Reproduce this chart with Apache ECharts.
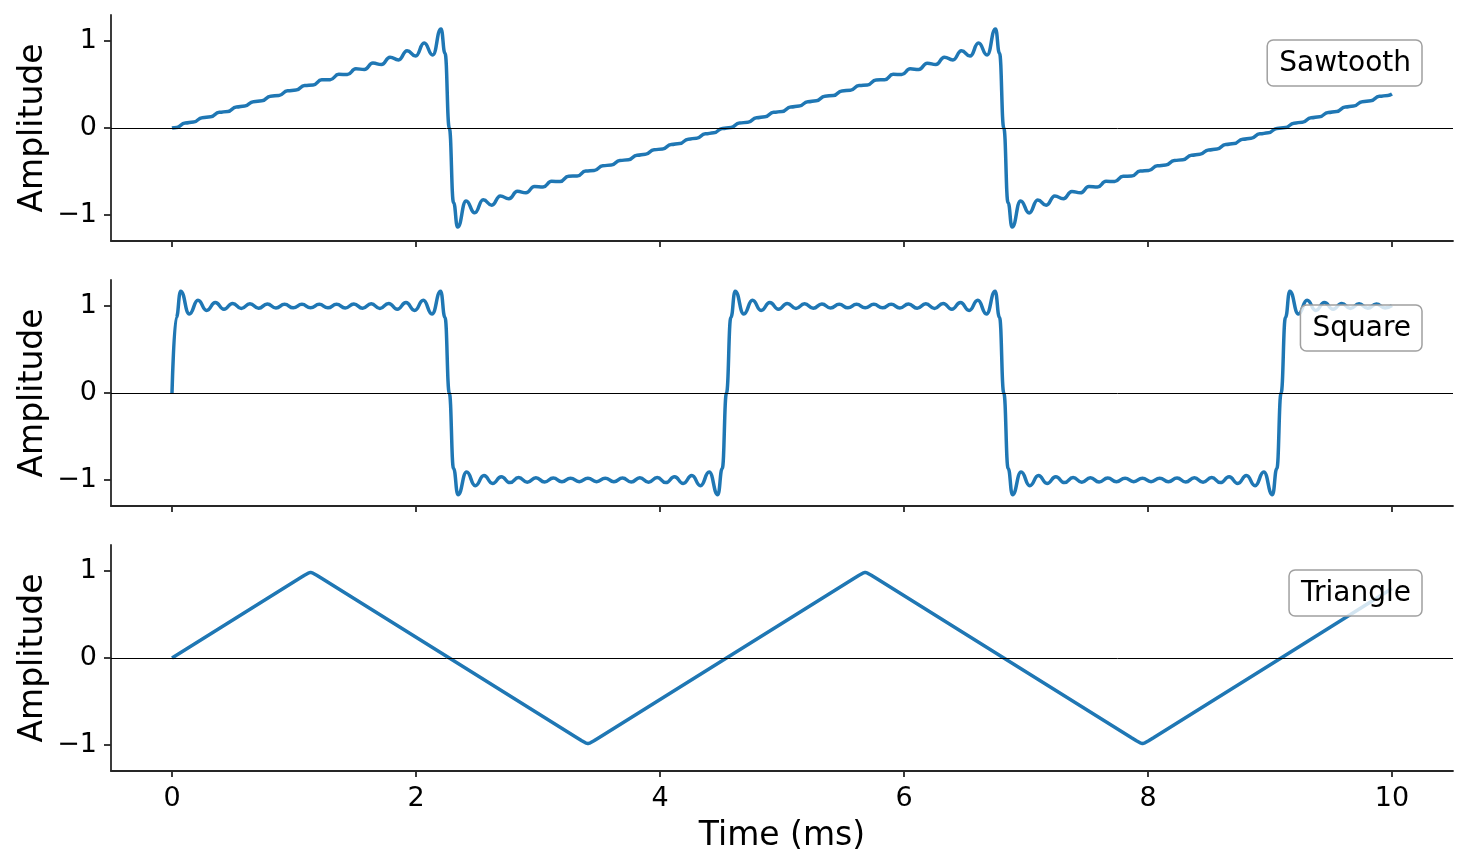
<!DOCTYPE html>
<html lang="en">
<head>
<meta charset="UTF-8">
<title>Waveforms</title>
<style>
  html, body { margin: 0; padding: 0; background: #ffffff; }
  #chart { width: 1467px; height: 868px; }
</style>
</head>
<body>
<div id="chart"></div>
<script src="https://cdn.jsdelivr.net/npm/echarts@6/dist/echarts.min.js"></script>
<script>
// panels, top to bottom
var panelNames = ['Sawtooth', 'Square', 'Triangle'];
var xTicks = [0, 2, 4, 6, 8, 10];
var yTicks = [-1, 0, 1];

// [time ms, amplitude] at the ripple peaks/troughs
var sawtooth = [
  [0, 0], [0.037, 0.006], [0.107, 0.057], [0.177, 0.068], [0.247, 0.119], [0.317, 0.129],
  [0.387, 0.180], [0.457, 0.191], [0.527, 0.242], [0.597, 0.253], [0.667, 0.303], [0.737, 0.313],
  [0.807, 0.366], [0.877, 0.375], [0.947, 0.428], [1.017, 0.436], [1.087, 0.489], [1.157, 0.496],
  [1.227, 0.554], [1.297, 0.556], [1.367, 0.617], [1.437, 0.615], [1.507, 0.681], [1.577, 0.674],
  [1.647, 0.747], [1.717, 0.730], [1.787, 0.815], [1.857, 0.783], [1.927, 0.889], [1.997, 0.828],
  [2.067, 0.977], [2.137, 0.840], [2.205, 1.14], [2.238, 0.86], [2.273, 0], [2.308, -0.86],
  [2.341, -1.14], [2.411, -0.839], [2.481, -0.976], [2.551, -0.826], [2.621, -0.888], [2.691, -0.782],
  [2.761, -0.814], [2.831, -0.729], [2.901, -0.745], [2.971, -0.673], [3.041, -0.680], [3.111, -0.614],
  [3.181, -0.616], [3.251, -0.554], [3.321, -0.553], [3.391, -0.495], [3.461, -0.489], [3.531, -0.434],
  [3.601, -0.426], [3.671, -0.374], [3.741, -0.365], [3.811, -0.313], [3.881, -0.302], [3.951, -0.251],
  [4.021, -0.241], [4.091, -0.190], [4.161, -0.179], [4.231, -0.128], [4.301, -0.117], [4.371, -0.067],
  [4.441, -0.056], [4.511, -0.005], [4.581, 0.006], [4.651, 0.057], [4.721, 0.067], [4.791, 0.118],
  [4.861, 0.129], [4.931, 0.180], [5.001, 0.191], [5.071, 0.241], [5.141, 0.252], [5.211, 0.303],
  [5.281, 0.314], [5.351, 0.366], [5.421, 0.374], [5.491, 0.427], [5.561, 0.435], [5.631, 0.490],
  [5.701, 0.496], [5.771, 0.553], [5.841, 0.555], [5.911, 0.617], [5.981, 0.615], [6.051, 0.681],
  [6.121, 0.673], [6.191, 0.746], [6.261, 0.730], [6.331, 0.815], [6.401, 0.783], [6.471, 0.888],
  [6.541, 0.827], [6.611, 0.977], [6.681, 0.840], [6.750, 1.14], [6.783, 0.86], [6.818, 0],
  [6.853, -0.86], [6.886, -1.14], [6.956, -0.839], [7.026, -0.977], [7.096, -0.827], [7.166, -0.888],
  [7.236, -0.782], [7.306, -0.814], [7.376, -0.730], [7.446, -0.746], [7.516, -0.673], [7.586, -0.680],
  [7.656, -0.614], [7.726, -0.616], [7.796, -0.555], [7.866, -0.553], [7.936, -0.495], [8.006, -0.489],
  [8.076, -0.434], [8.146, -0.427], [8.216, -0.374], [8.286, -0.365], [8.356, -0.313], [8.426, -0.302],
  [8.496, -0.252], [8.566, -0.241], [8.636, -0.190], [8.706, -0.179], [8.776, -0.129], [8.846, -0.118],
  [8.916, -0.067], [8.986, -0.056], [9.056, -0.005], [9.126, 0.005], [9.196, 0.056], [9.266, 0.067],
  [9.336, 0.118], [9.406, 0.129], [9.476, 0.179], [9.546, 0.190], [9.616, 0.241], [9.686, 0.252],
  [9.756, 0.303], [9.826, 0.313], [9.896, 0.364], [9.966, 0.375], [10.0, 0.39]
];

var square = [
  [0, 0], [0.0355, 0.87],
  [0.071, 1.17], [0.142, 0.91], [0.213, 1.066], [0.284, 0.950], [0.355, 1.041], [0.426, 0.964],
  [0.497, 1.031], [0.568, 0.972], [0.639, 1.026], [0.710, 0.976], [0.781, 1.023], [0.852, 0.978],
  [0.923, 1.021], [0.994, 0.980], [1.065, 1.020], [1.136, 0.980], [1.207, 1.020], [1.278, 0.980],
  [1.349, 1.021], [1.420, 0.978], [1.491, 1.023], [1.562, 0.976], [1.633, 1.026], [1.704, 0.972],
  [1.776, 1.031], [1.847, 0.964], [1.918, 1.041], [1.989, 0.950], [2.060, 1.066], [2.131, 0.91],
  [2.202, 1.17], [2.2375, 0.87], [2.273, 0], [2.308, -0.87],
  [2.344, -1.17], [2.415, -0.91], [2.486, -1.066], [2.557, -0.950], [2.628, -1.041], [2.699, -0.964],
  [2.770, -1.031], [2.841, -0.972], [2.912, -1.026], [2.983, -0.976], [3.054, -1.023], [3.125, -0.978],
  [3.196, -1.021], [3.267, -0.980], [3.338, -1.020], [3.409, -0.980], [3.480, -1.020], [3.551, -0.980],
  [3.622, -1.021], [3.693, -0.978], [3.764, -1.023], [3.835, -0.976], [3.906, -1.026], [3.977, -0.972],
  [4.048, -1.031], [4.119, -0.964], [4.190, -1.041], [4.261, -0.950], [4.332, -1.066], [4.403, -0.91],
  [4.474, -1.17], [4.510, -0.87], [4.545, 0], [4.581, 0.87],
  [4.616, 1.17], [4.687, 0.91], [4.758, 1.066], [4.829, 0.950], [4.900, 1.041], [4.971, 0.964],
  [5.043, 1.031], [5.114, 0.972], [5.185, 1.026], [5.256, 0.976], [5.327, 1.023], [5.398, 0.978],
  [5.469, 1.021], [5.540, 0.980], [5.611, 1.020], [5.682, 0.980], [5.753, 1.020], [5.824, 0.980],
  [5.895, 1.021], [5.966, 0.978], [6.037, 1.023], [6.108, 0.976], [6.179, 1.026], [6.250, 0.972],
  [6.321, 1.031], [6.392, 0.964], [6.463, 1.041], [6.534, 0.950], [6.605, 1.066], [6.676, 0.91],
  [6.747, 1.17], [6.783, 0.87], [6.818, 0], [6.854, -0.87],
  [6.889, -1.17], [6.960, -0.91], [7.031, -1.066], [7.102, -0.950], [7.173, -1.041], [7.244, -0.964],
  [7.315, -1.031], [7.386, -0.972], [7.457, -1.026], [7.528, -0.976], [7.599, -1.023], [7.670, -0.978],
  [7.741, -1.021], [7.812, -0.980], [7.883, -1.020], [7.954, -0.980], [8.025, -1.020], [8.096, -0.980],
  [8.167, -1.021], [8.238, -0.978], [8.309, -1.023], [8.380, -0.976], [8.451, -1.026], [8.522, -0.972],
  [8.594, -1.031], [8.665, -0.964], [8.736, -1.041], [8.807, -0.950], [8.878, -1.066], [8.949, -0.91],
  [9.020, -1.17], [9.056, -0.87], [9.091, 0], [9.127, 0.87],
  [9.162, 1.17], [9.233, 0.91], [9.304, 1.066], [9.375, 0.950], [9.446, 1.041], [9.517, 0.964],
  [9.588, 1.031], [9.659, 0.972], [9.730, 1.026], [9.801, 0.976], [9.872, 1.023], [9.943, 0.978],
  [10.0, 1.005]
];

// straight ramps, slightly rounded corners
var triangle = [
  [0, 0],
  [1.046, 0.918], [1.086, 0.953], [1.116, 0.976], [1.136, 0.985], [1.156, 0.976], [1.186, 0.953], [1.226, 0.918],
  [2.273, 0],
  [3.319, -0.918], [3.359, -0.953], [3.389, -0.976], [3.409, -0.985], [3.429, -0.976], [3.459, -0.953], [3.499, -0.918],
  [4.545, 0],
  [5.592, 0.918], [5.632, 0.953], [5.662, 0.976], [5.682, 0.985], [5.702, 0.976], [5.732, 0.953], [5.772, 0.918],
  [6.818, 0],
  [7.865, -0.918], [7.905, -0.953], [7.935, -0.976], [7.955, -0.985], [7.975, -0.976], [8.005, -0.953], [8.045, -0.918],
  [9.091, 0], [10.0, 0.80]
];

var waves = [sawtooth, square, triangle];
var smoothing = [0.5, 0.5, false];

var myChart = echarts.init(document.getElementById('chart'));
var font = 'DejaVu Sans';
var ink = '#262626';
var gridTops = [15, 280, 545];

function tickText(v) {
  return v < 0 ? '\u2212' + (-v) : String(v);
}

var grids = [], xAxes = [], yAxes = [], legends = [], series = [];
for (var i = 0; i < 3; i++) {
  var last = i === 2;
  grids.push({ left: 111, right: 14, top: gridTops[i], height: 226, outerBoundsMode: 'none' });
  xAxes.push({
    type: 'value', gridIndex: i, min: -0.5, max: 10.5,
    name: last ? 'Time (ms)' : '', nameLocation: 'middle', nameGap: 49,
    nameTextStyle: { fontFamily: font, fontSize: 33, color: '#000' },
    axisLine: { show: true, onZero: false, lineStyle: { color: ink, width: 1.8 } },
    axisTick: { show: true, length: 6, customValues: xTicks, lineStyle: { color: ink, width: 1.8 } },
    axisLabel: { show: last, customValues: xTicks, margin: 14, fontFamily: font, fontSize: 27, color: '#000' },
    splitLine: { show: false }
  });
  yAxes.push({
    type: 'value', gridIndex: i, min: -1.3, max: 1.3,
    name: 'Amplitude', nameLocation: 'middle', nameGap: 61, nameMoveOverlap: false,
    nameTextStyle: { fontFamily: font, fontSize: 33, color: '#000' },
    axisLine: { show: true, onZero: false, lineStyle: { color: ink, width: 1.8 } },
    axisTick: { show: true, length: 7, customValues: yTicks, lineStyle: { color: ink, width: 1.8 } },
    axisLabel: {
      customValues: yTicks, margin: 14, padding: [4, 0, 0, 0],
      fontFamily: font, fontSize: 27, color: '#000', formatter: tickText
    },
    splitLine: { show: false }
  });
  legends.push({
    data: [panelNames[i]], right: 45, top: gridTops[i] + 25,
    selectedMode: false, itemWidth: 0, itemHeight: 0,
    padding: [10, 11, 8, 6], borderRadius: 6,
    backgroundColor: 'rgba(255,255,255,0.8)', borderColor: '#a0a0a0', borderWidth: 1.5,
    textStyle: { fontFamily: font, fontSize: 28, color: '#000' }
  });
  series.push({
    name: panelNames[i], type: 'line', xAxisIndex: i, yAxisIndex: i,
    data: waves[i], showSymbol: false, smooth: smoothing[i], smoothMonotone: 'x',
    lineStyle: { color: '#1f77b4', width: 3.5 }, itemStyle: { color: '#1f77b4' },
    emphasis: { disabled: true },
    markLine: {
      silent: true, symbol: ['none', 'none'], label: { show: false },
      lineStyle: { color: '#000', width: 1, type: 'solid' },
      data: [{ yAxis: 0 }]
    }
  });
}

myChart.setOption({
  animation: false,
  backgroundColor: '#ffffff',
  textStyle: { fontFamily: font },
  grid: grids,
  xAxis: xAxes,
  yAxis: yAxes,
  legend: legends,
  series: series
});
</script>
</body>
</html>
